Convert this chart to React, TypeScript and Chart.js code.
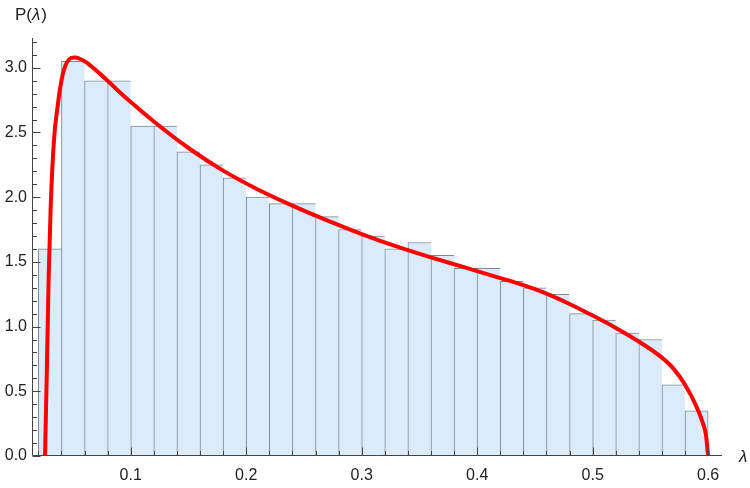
import { useEffect, useRef } from 'react';
import { Chart, registerables } from 'chart.js';

Chart.register(...registerables);

// Histogram bins (width 0.02), centers and densities
const binCenters = [
  0.03, 0.05, 0.07, 0.09, 0.11, 0.13, 0.15, 0.17, 0.19, 0.21,
  0.23, 0.25, 0.27, 0.29, 0.31, 0.33, 0.35, 0.37, 0.39, 0.41,
  0.43, 0.45, 0.47, 0.49, 0.51, 0.53, 0.55, 0.57, 0.59,
];
const binHeights = [
  1.6, 3.05, 2.9, 2.9, 2.55, 2.55, 2.35, 2.25, 2.15, 2.0,
  1.95, 1.95, 1.85, 1.75, 1.7, 1.6, 1.65, 1.55, 1.45, 1.45,
  1.35, 1.3, 1.25, 1.1, 1.05, 0.95, 0.9, 0.55, 0.35,
];

// Theoretical density curve
const curveLambda = [
  0.0258, 0.0266, 0.0273, 0.029, 0.0307, 0.0336, 0.0365, 0.0402, 0.0446, 0.0518,
  0.06, 0.07, 0.08, 0.09, 0.1, 0.12, 0.15, 0.18, 0.21, 0.24,
  0.27, 0.3, 0.33, 0.36, 0.39, 0.42, 0.44, 0.46, 0.48, 0.5,
  0.52, 0.54, 0.56, 0.57, 0.58, 0.59, 0.595, 0.598, 0.6,
];
const curveDensity = [
  0, 0.35, 0.64, 1.41, 1.93, 2.45, 2.69, 2.91, 3.04, 3.08,
  3.05, 2.98, 2.9, 2.815, 2.735, 2.585, 2.38, 2.205, 2.06, 1.935,
  1.82, 1.715, 1.62, 1.535, 1.455, 1.375, 1.32, 1.255, 1.175, 1.085,
  0.99, 0.885, 0.76, 0.675, 0.55, 0.38, 0.265, 0.168, 0,
];

const xTickLabels = [0.1, 0.2, 0.3, 0.4, 0.5, 0.6];
const yTickLabels = [0.0, 0.5, 1.0, 1.5, 2.0, 2.5, 3.0];

const X_MIN = 0.0145;
const X_MAX = 0.612;
const Y_MAX = 3.23;

const FONT = '"Liberation Sans", Arial, sans-serif';
const AXIS_COLOR = '#444';
const TEXT_COLOR = '#222';

const axesPlugin = {
  id: 'mmaAxes',
  afterDraw(chart: any) {
    const { ctx, chartArea, scales } = chart;
    const xs = scales.x;
    const ys = scales.y;
    ctx.save();
    ctx.strokeStyle = AXIS_COLOR;
    ctx.lineWidth = 1;
    const ax = Math.round(chartArea.left) + 0.5;
    const ay = Math.round(chartArea.bottom) - 0.5;
    ctx.beginPath();
    ctx.moveTo(ax, chartArea.top);
    ctx.lineTo(ax, ay);
    ctx.lineTo(chartArea.right, ay);
    ctx.stroke();
    // y ticks (inward)
    ctx.beginPath();
    for (let i = 0; i <= 32; i++) {
      const v = i / 10;
      const py = Math.round(ys.getPixelForValue(v)) + 0.5;
      const len = i % 5 === 0 ? 8 : 4.5;
      ctx.moveTo(ax, py);
      ctx.lineTo(ax + len, py);
    }
    // x ticks (inward)
    for (let i = 1; i <= 30; i++) {
      const v = i * 0.02;
      const px = Math.round(xs.getPixelForValue(v)) + 0.5;
      const len = i % 5 === 0 ? 8 : 4.5;
      ctx.moveTo(px, ay);
      ctx.lineTo(px, ay - len);
    }
    ctx.stroke();

    // axis labels
    ctx.fillStyle = TEXT_COLOR;
    ctx.textBaseline = 'middle';
    ctx.textAlign = 'left';
    let tx = 15;
    const ty = 15;
    ctx.font = `17px ${FONT}`;
    ctx.fillText('P(', tx, ty);
    tx += ctx.measureText('P(').width;
    ctx.font = `italic 17px ${FONT}`;
    ctx.fillText('λ', tx, ty);
    tx += ctx.measureText('λ').width + 1;
    ctx.font = `17px ${FONT}`;
    ctx.fillText(')', tx, ty);

    ctx.font = `italic 17px ${FONT}`;
    ctx.fillText('λ', 739, 457);
    ctx.restore();
  },
};

export default function App() {
  const ref = useRef<HTMLCanvasElement | null>(null);

  useEffect(() => {
    if (!ref.current) return;
    const last = binCenters.length - 1;
    const chart = new Chart(ref.current, {
      type: 'bar',
      data: {
        datasets: [
          {
            type: 'line',
            data: curveLambda.map((x, i) => ({ x, y: curveDensity[i] })),
            borderColor: 'rgb(255,0,0)',
            borderWidth: 4,
            pointRadius: 0,
            cubicInterpolationMode: 'monotone',
            fill: false,
            order: 0,
          } as any,
          {
            type: 'bar',
            data: binCenters.map((x, i) => ({ x, y: binHeights[i] })),
            backgroundColor: 'rgb(220,235,250)',
            borderColor: 'rgba(105,118,132,0.85)',
            borderWidth: (c: any) =>
              c.dataIndex === last
                ? { top: 1, left: 1, right: 1, bottom: 0 }
                : { top: 1, left: 1, right: 0, bottom: 0 },
            borderSkipped: false,
            barPercentage: 1,
            categoryPercentage: 1,
            order: 1,
          } as any,
        ],
      },
      options: {
        animation: false,
        responsive: false,
        devicePixelRatio: 1,
        layout: { padding: { left: 0, top: 38, right: 28, bottom: 0 } },
        plugins: {
          legend: { display: false },
          tooltip: { enabled: false },
        },
        scales: {
          x: {
            type: 'linear',
            min: X_MIN,
            max: X_MAX,
            offset: false,
            grid: { display: false, drawTicks: false, offset: false },
            border: { display: false },
            afterBuildTicks: (s: any) => {
              s.ticks = xTickLabels.map((v) => ({ value: v }));
            },
            afterFit: (s: any) => {
              s.height = 32;
            },
            ticks: {
              padding: 10,
              maxRotation: 0,
              autoSkip: false,
              color: TEXT_COLOR,
              font: { family: FONT, size: 16 },
              callback: (v: any) => Number(v).toFixed(1),
            },
          },
          y: {
            type: 'linear',
            min: 0,
            max: Y_MAX,
            grid: { display: false, drawTicks: false },
            border: { display: false },
            afterBuildTicks: (s: any) => {
              s.ticks = yTickLabels.map((v) => ({ value: v }));
            },
            afterFit: (s: any) => {
              s.width = 32;
            },
            ticks: {
              padding: 5,
              autoSkip: false,
              color: TEXT_COLOR,
              font: { family: FONT, size: 16 },
              callback: (v: any) => Number(v).toFixed(1),
            },
          },
        },
      },
      plugins: [axesPlugin],
    });
    return () => chart.destroy();
  }, []);

  return (
    <div style={{ position: 'fixed', left: 0, top: 0, width: 750, height: 488, background: '#fff' }}>
      <canvas ref={ref} width={750} height={488} style={{ width: 750, height: 488, display: 'block' }} />
    </div>
  );
}
